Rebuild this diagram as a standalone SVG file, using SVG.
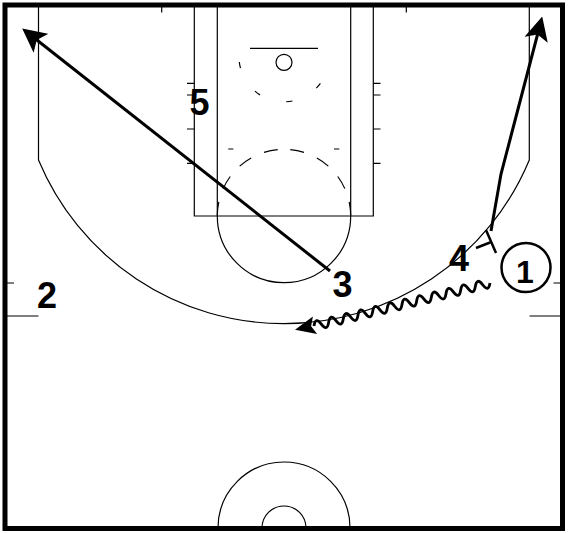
<svg xmlns="http://www.w3.org/2000/svg" width="570" height="533" viewBox="0 0 570 533">
<style>
.court{fill:none;stroke:#000;stroke-width:1.2}
.dash{fill:none;stroke:#000;stroke-width:1.2}
.move{fill:none;stroke:#000;stroke-width:3}
.screen{fill:none;stroke:#000;stroke-width:2.5}
.lbl{font-family:"Liberation Sans",Arial,sans-serif;font-weight:bold;font-size:36px;fill:#000;text-anchor:middle}
</style>
<defs>
<marker id="arrow" markerUnits="userSpaceOnUse" markerWidth="24" markerHeight="24" viewBox="0 0 22 22" refX="6" refY="11" orient="auto">
<path d="M0,0 L22,11 L0,22 L5,11 Z" fill="#000"/>
</marker>
</defs>
<rect width="570" height="533" fill="#fff"/>
<g id="court">
<path class="court" d="M38.5,5 V160 A265.8,265.8 0 0 0 529.3,160 V5"/>
<path class="court" d="M194.3,5 V216 H373.3 V5 M217.3,5 V216 M350.7,5 V216"/>
<path class="court" d="M217.3,216 A66.7,66.7 0 0 0 350.7,216"/>
<path class="dash" stroke-dasharray="14 14" stroke-dashoffset="21.6" d="M284,149.3 A66.7,66.7 0 0 1 350.7,216"/>
<path class="dash" stroke-dasharray="14 14" stroke-dashoffset="21.6" d="M284,149.3 A66.7,66.7 0 0 0 217.3,216"/>
<path class="court" d="M228.3,149 H233.3 M334,149 H339.3"/>
<path class="dash" stroke-dasharray="6.3 27.5" d="M239.3,62 A45,45 0 0 0 328.7,62"/>
<path class="court" d="M250,48.3 H318"/>
<circle class="court" cx="284" cy="62.3" r="8"/>
<path class="court" d="M187,83.3 H194.3 M187,95 H194.3 M187,129 H194.3 M187,163.3 H194.3 M373.3,83.3 H380.5 M373.3,95 H380.5 M373.3,129 H380.5 M373.3,163.3 H380.5"/>
<path class="court" d="M161.7,5 V12.5 M406.3,5 V12.5"/>
<path class="court" d="M5,283 H14 M5,316 H38.5 M553.5,283 H562 M529.5,316 H562"/>
<path class="court" d="M218,528 A66,66 0 0 1 350,528 M262,528 A22,22 0 0 1 306,528"/>
<rect x="5" y="5" width="557.5" height="523.5" fill="none" stroke="#000" stroke-width="5"/>
</g>
<g id="connectors">
<path id="pass-3" class="move" marker-end="url(#arrow)" d="M330,271 L35.9,39.2"/>
<path id="screen-4" class="screen" d="M476,248 L490,242.5 M486,230 L496,253"/>
<path id="pop-4" class="move" marker-end="url(#arrow)" d="M491,231 L501,174 L537.8,33.5"/>
<g id="dribble-1" transform="translate(490,283) rotate(166.28)">
<path fill="none" stroke="#000" stroke-width="2.8" d="M0,0 q3.775,-9 7.55,0 t7.55,0 t7.55,0 t7.55,0 t7.55,0 t7.55,0 t7.55,0 t7.55,0 t7.55,0 t7.55,0 t7.55,0 t7.55,0 t7.55,0 t7.55,0 t7.55,0 t7.55,0 t7.55,0 t7.55,0 t7.55,0 t7.55,0 t7.55,0 t7.55,0 t7.55,0 t7.55,0"/>
<path d="M180,-8.5 L200.5,0.8 L180,9.5 L184,0.5 Z" fill="#000"/>
</g>
</g>
<g id="player-5"><text class="lbl" x="199.5" y="115">5</text></g>
<g id="player-2"><text class="lbl" x="47" y="308">2</text></g>
<g id="player-3"><text class="lbl" x="342.5" y="297">3</text></g>
<g id="player-4"><text class="lbl" x="459" y="271">4</text></g>
<g id="player-1">
<circle cx="526" cy="267.5" r="24.5" fill="#fff" stroke="#000" stroke-width="2.5"/>
<text class="lbl" x="525" y="283" style="font-size:32px">1</text>
</g>
</svg>
